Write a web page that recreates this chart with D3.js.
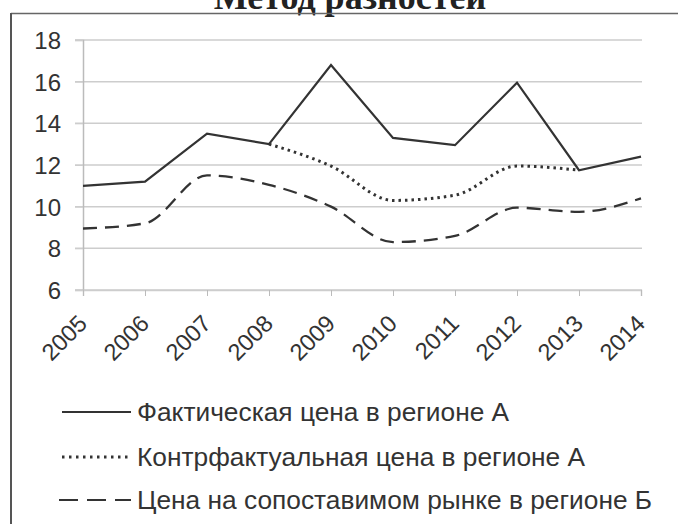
<!DOCTYPE html>
<html><head><meta charset="utf-8">
<script src="https://cdn.jsdelivr.net/npm/d3@7"></script>
<style>body{margin:0;background:#fff}svg{display:block}</style>
</head><body><svg id="c" width="678" height="524"></svg>
<script>
const title = "Метод разностей";
const years = ["2005","2006","2007","2008","2009","2010","2011","2012","2013","2014"];
const actualA = [11.0, 11.2, 13.5, 13.0, 16.8, 13.3, 12.95, 15.95, 11.75, 12.4];
const counterA = [null, null, null, 13.0, 11.95, 10.3, 10.55, 11.95, 11.75, null];
const marketB = [8.95, 9.2, 11.5, 11.05, 10.0, 8.3, 8.6, 9.95, 9.75, 10.4];
const yTicks = [6, 8, 10, 12, 14, 16, 18];
const legendLabels = ["Фактическая цена в регионе А", "Контрфактуальная цена в регионе А", "Цена на сопоставимом рынке в регионе Б"];

const svg = d3.select("#c");
const font = "'Liberation Sans', Arial, sans-serif";
const ink = "#333";

// title (clipped at top, as in the source scan)
svg.append("text").attr("x",350).attr("y",9).attr("text-anchor","middle")
  .attr("font-family","'Liberation Serif','Times New Roman',serif").attr("font-weight","bold")
  .attr("font-size",36).attr("fill","#222").text(title);

// frame
svg.append("line").attr("x1",11).attr("x2",678).attr("y1",13.5).attr("y2",13.5).attr("stroke","#666").attr("stroke-width",1.5);
svg.append("line").attr("x1",11).attr("x2",11).attr("y1",13).attr("y2",524).attr("stroke","#555").attr("stroke-width",2);

const x = d3.scalePoint().domain(years).range([83, 641]);
const y = d3.scaleLinear().domain([6, 18]).range([290, 40]);

// gridlines
svg.append("g").selectAll("line").data(yTicks).join("line")
  .attr("x1",75).attr("x2",642).attr("y1",d=>y(d)).attr("y2",d=>y(d))
  .attr("stroke","#cdcdcd").attr("stroke-width",1.5);

// y axis
const ya = svg.append("g").attr("transform","translate(83,0)")
  .call(d3.axisLeft(y).tickValues(yTicks).tickSize(8).tickPadding(14));
ya.select(".domain").attr("stroke","#bbb").attr("stroke-width",1.5);
ya.selectAll(".tick line").attr("stroke","#cdcdcd");
ya.selectAll("text").attr("font-family",font).attr("font-size",24).attr("fill",ink).attr("dy","0.36em");

// x axis
const xa = svg.append("g").attr("transform","translate(0,290)")
  .call(d3.axisBottom(x).tickSize(6).tickPadding(0));
xa.select(".domain").attr("stroke","#cdcdcd").attr("stroke-width",1.5);
xa.selectAll(".tick line").attr("stroke","#bbb");
xa.selectAll("text").attr("font-family",font).attr("font-size",23.5).attr("fill",ink)
  .attr("text-anchor","end").attr("dy",0).attr("y",0)
  .attr("transform","translate(5,35) rotate(-45)");

// lines
const solid = d3.line().defined(d=>d!=null).x((d,i)=>x(years[i])).y(d=>y(d));
const smooth = d3.line().defined(d=>d!=null).x((d,i)=>x(years[i])).y(d=>y(d)).curve(d3.curveMonotoneX);

svg.append("path").datum(counterA).attr("d",smooth).attr("fill","none")
  .attr("stroke",ink).attr("stroke-width",3).attr("stroke-dasharray","2.5 4").attr("stroke-linecap","butt");
svg.append("path").datum(marketB).attr("d",smooth).attr("fill","none")
  .attr("stroke",ink).attr("stroke-width",2.3).attr("stroke-dasharray","14 8");
svg.append("path").datum(actualA).attr("d",solid).attr("fill","none")
  .attr("stroke",ink).attr("stroke-width",2.2);

// legend
const legY = [412, 457, 500];
const styles = [{x1:62,da:null,w:2},{x1:62,da:"2.5 4.5",w:2.8},{x1:59,da:"19 9",w:2}];
const lg = svg.append("g").selectAll("g").data(legendLabels).join("g")
  .attr("transform",(d,i)=>`translate(0,${legY[i]})`);
lg.append("line").attr("x1",(d,i)=>styles[i].x1).attr("x2",131).attr("y1",0).attr("y2",0)
  .attr("stroke",ink).attr("stroke-width",(d,i)=>styles[i].w)
  .attr("stroke-dasharray",(d,i)=>styles[i].da);
lg.append("text").attr("x",137).attr("y",0).attr("dy","0.35em")
  .attr("font-family",font)
  .attr("font-size",26.3).attr("fill",ink).text(d=>d);
</script></body></html>
